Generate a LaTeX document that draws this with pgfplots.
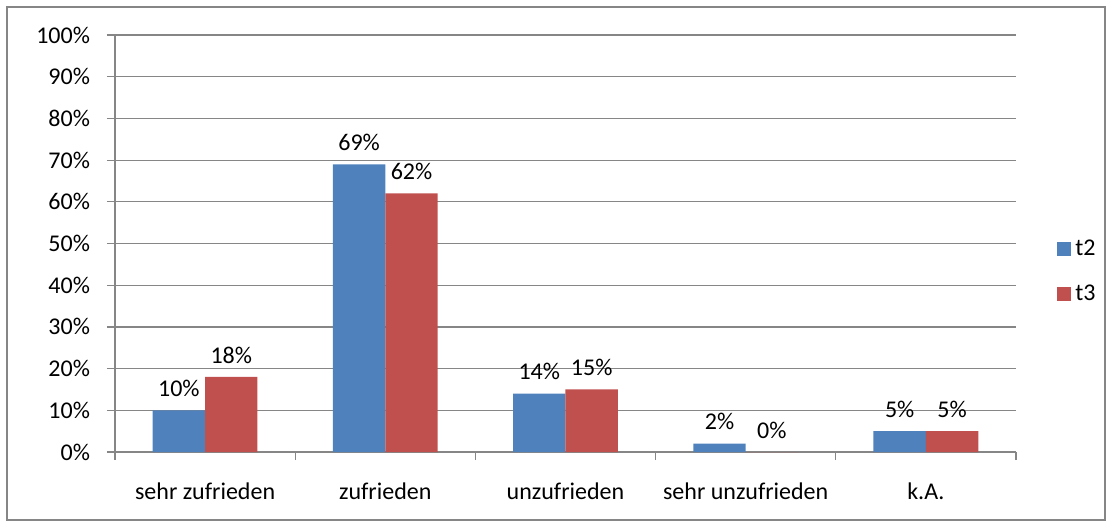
\documentclass[border=0pt]{standalone}
\usepackage{pgfplots}
\pgfplotsset{compat=1.18}
\usepackage{fontspec}
\setmainfont{Carlito}
\definecolor{barblue}{HTML}{4F81BD}
\definecolor{barred}{HTML}{C0504D}
\definecolor{linegray}{HTML}{868686}
\begin{document}
\begin{tikzpicture}
\useasboundingbox (-57.5pt,-37pt) rectangle (497.5pt,226pt);
\draw[linegray, line width=1pt] (-54pt,-34pt) rectangle (495pt,222.5pt);
\begin{axis}[
  at={(0,0)}, anchor=south west,
  scale only axis,
  width=450.5pt, height=208.5pt,
  ybar=0pt, bar width=26.2pt,
  xmin=-0.5, xmax=4.5,
  ymin=0, ymax=100,
  ytick={0,10,...,100},
  yticklabel={\pgfmathprintnumber{\tick}\%},
  xtick={-0.5,0.5,...,4.5},
  x tick label as interval,
  xticklabels={sehr zufrieden, zufrieden, unzufrieden, sehr unzufrieden, k.A.},
  axis x line*=bottom, axis y line*=left,
  axis line style={linegray, line width=0.6pt, -},
  tick style={linegray, line width=0.6pt},
  tick align=outside,
  major tick length=4pt,
  ymajorgrids,
  grid style={linegray, line width=0.6pt},
  /pgf/number format/assume math mode=true,
  tick label style={font=\fontsize{12pt}{14pt}\selectfont, black},
  xticklabel style={yshift=-8pt},
  yticklabel style={xshift=-5pt},
  nodes near coords={\pgfmathprintnumber{\pgfplotspointmeta}\%},
  every node near coord/.append style={font=\fontsize{12pt}{14pt}\selectfont, black, anchor=center, yshift=11pt},
  legend style={at={(1.0455,0.433)}, anchor=west, draw=none, fill=none,
    font=\fontsize{12pt}{14pt}\selectfont, row sep=9pt, inner sep=0pt},
  legend cell align=left,
  legend image code/.code={\draw[#1,draw=none] (0pt,-3.5pt) rectangle (7pt,3.5pt);},
]
\addplot[fill=barblue, draw=none] coordinates {(0,10) (1,69) (2,14) (3,2) (4,5)};
\addplot[fill=barred, draw=none] coordinates {(0,18) (1,62) (2,15) (3,0) (4,5)};
\legend{t2, t3}
\end{axis}
\end{tikzpicture}
\end{document}
